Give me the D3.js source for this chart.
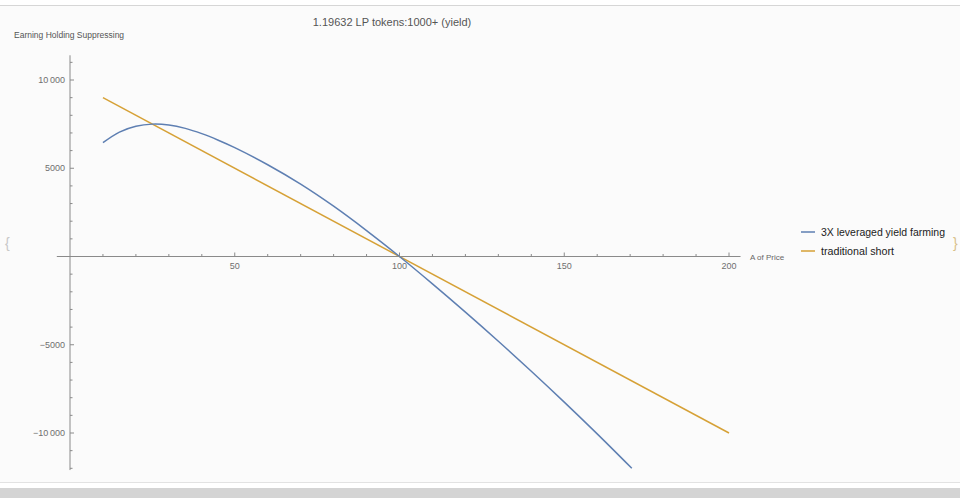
<!DOCTYPE html>
<html><head><meta charset="utf-8">
<script src="https://cdn.jsdelivr.net/npm/d3@7/dist/d3.min.js"></script>
<style>
html,body{margin:0;padding:0;background:#ffffff;}
svg{display:block;font-family:"Liberation Sans",Arial,sans-serif;}
</style></head>
<body>
<script>
const title = "1.19632 LP tokens:1000+ (yield)";
const yLabel = "Earning Holding Suppressing";
const xLabel = "A of Price";
const seriesNames = ["3X leveraged yield farming", "traditional short"];
const seriesColors = ["#5e7fb2", "#d6a136"];

const farmX = [10, 15, 20, 25, 30, 35, 40, 45, 50, 60, 70, 80, 90, 100, 110, 120, 130, 140, 150, 160, 170.5];
const farmY = [6450, 7050, 7380, 7500, 7450, 7260, 6960, 6590, 6170, 5200, 4100, 2850, 1470, 0, -1550, -3150, -4800, -6500, -8250, -10050, -12000];
const shortX = [10, 200];
const shortY = [9000, -10000];

const xMajor = [50, 100, 150, 200];
const xMinor = [10, 20, 30, 40, 60, 70, 80, 90, 110, 120, 130, 140, 160, 170, 180, 190];
const yMajor = [10000, 5000, -5000, -10000];
const yMajorLabels = ["10\u2009000", "5000", "\u22125000", "\u221210\u2009000"];
const yMinor = [11000, 9000, 8000, 7000, 6000, 4000, 3000, 2000, 1000, -1000, -2000, -3000, -4000, -6000, -7000, -8000, -9000, -11000, -12000];

const W = 960, H = 498;
const svg = d3.select("body").append("svg").attr("width", W).attr("height", H);

// frame / background
svg.append("rect").attr("x", 0).attr("y", 0).attr("width", W).attr("height", H).attr("fill", "#ffffff");
svg.append("rect").attr("x", 0).attr("y", 6).attr("width", W).attr("height", 476).attr("fill", "#fbfbfb");
svg.append("line").attr("x1", 0).attr("x2", W).attr("y1", 5.5).attr("y2", 5.5).attr("stroke", "#d6d6d6");
svg.append("line").attr("x1", 0).attr("x2", W).attr("y1", 482.5).attr("y2", 482.5).attr("stroke", "#e2e2e2");
svg.append("rect").attr("x", 0).attr("y", 488).attr("width", W).attr("height", 10).attr("fill", "#d4d4d4");

const x = d3.scaleLinear().domain([0, 200]).range([70, 729]);
const y = d3.scaleLinear().domain([-10000, 10000]).range([433, 80]);

const axisColor = "#8a8a8a";
const g = svg.append("g");

// x axis line
g.append("line").attr("x1", x(-4)).attr("x2", x(203.5)).attr("y1", y(0)).attr("y2", y(0))
  .attr("stroke", axisColor).attr("stroke-width", 1);
// y axis line
g.append("line").attr("x1", x(0)).attr("x2", x(0)).attr("y1", y(11400)).attr("y2", y(-12100))
  .attr("stroke", axisColor).attr("stroke-width", 1);

// x ticks
g.selectAll(".xmaj").data(xMajor).enter().append("line")
  .attr("x1", d => x(d)).attr("x2", d => x(d)).attr("y1", y(0)).attr("y2", y(0) - 4)
  .attr("stroke", axisColor);
g.selectAll(".xmin").data(xMinor).enter().append("line")
  .attr("x1", d => x(d)).attr("x2", d => x(d)).attr("y1", y(0)).attr("y2", y(0) - 2.5)
  .attr("stroke", axisColor);
g.selectAll(".xlab").data(xMajor).enter().append("text")
  .attr("x", d => x(d)).attr("y", y(0) + 12).attr("text-anchor", "middle")
  .attr("font-size", 9).attr("fill", "#6f6f6f").text(d => d);

// y ticks
g.selectAll(".ymaj").data(yMajor).enter().append("line")
  .attr("x1", x(0)).attr("x2", x(0) + 4).attr("y1", d => y(d)).attr("y2", d => y(d))
  .attr("stroke", axisColor);
g.selectAll(".ymin").data(yMinor).enter().append("line")
  .attr("x1", x(0)).attr("x2", x(0) + 2.5).attr("y1", d => y(d)).attr("y2", d => y(d))
  .attr("stroke", axisColor);
g.selectAll(".ylab").data(yMajor).enter().append("text")
  .attr("x", x(0) - 5).attr("y", d => y(d) + 3).attr("text-anchor", "end")
  .attr("font-size", 9).attr("fill", "#6f6f6f").text((d, i) => yMajorLabels[i]);

// axis labels and title
svg.append("text").attr("x", 14).attr("y", 38).attr("font-size", 8.5).attr("fill", "#555").text(yLabel);
svg.append("text").attr("x", 750).attr("y", 260).attr("font-size", 8).attr("fill", "#666")
  .text(xLabel);
svg.append("text").attr("x", 392).attr("y", 26).attr("text-anchor", "middle").attr("font-size", 11)
  .attr("fill", "#555").text(title);

// series
const line = d3.line().x(d => x(d[0])).y(d => y(d[1])).curve(d3.curveCatmullRom.alpha(0.5));
const farm = farmX.map((v, i) => [v, farmY[i]]);
const short = shortX.map((v, i) => [v, shortY[i]]);
svg.append("path").attr("d", line(short)).attr("fill", "none").attr("stroke", seriesColors[1]).attr("stroke-width", 1.5);
svg.append("path").attr("d", line(farm)).attr("fill", "none").attr("stroke", seriesColors[0]).attr("stroke-width", 1.5);

// legend
const lg = svg.append("g");
const legendWidths = [124, 73];
seriesNames.forEach((n, i) => {
  const yy = 232 + i * 19;
  lg.append("line").attr("x1", 801).attr("x2", 815).attr("y1", yy).attr("y2", yy)
    .attr("stroke", seriesColors[i]).attr("stroke-width", 1.5);
  lg.append("text").attr("x", 821).attr("y", yy + 4).attr("font-size", 11).attr("fill", "#222")
    .attr("textLength", legendWidths[i]).attr("lengthAdjust", "spacingAndGlyphs").text(n);
});
// bracket artifacts
svg.append("text").attr("x", 5).attr("y", 248).attr("font-size", 14).attr("fill", "#c8c8c8").text("{");
svg.append("text").attr("x", 953).attr("y", 248).attr("font-size", 14).attr("fill", "#d9c08a").text("}");
</script>
</body></html>
